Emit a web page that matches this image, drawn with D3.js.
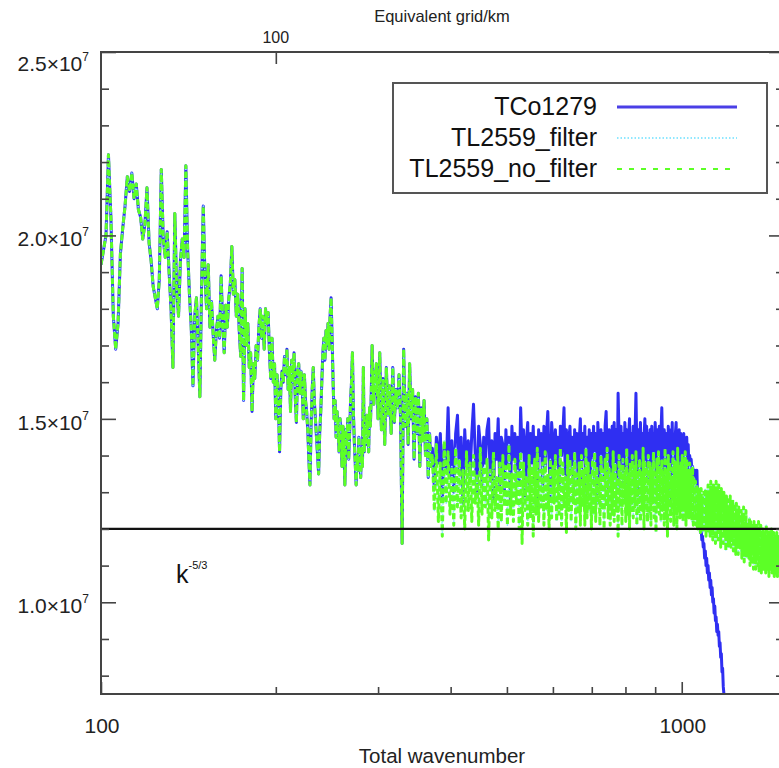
<!DOCTYPE html>
<html>
<head>
<meta charset="utf-8">
<script src="https://cdn.jsdelivr.net/npm/d3@7"></script>
<style>
  body { margin: 0; background: #fff; }
  svg { display: block; font-family: "Liberation Sans", Arial, sans-serif; }
</style>
</head>
<body>
<svg id="chart" width="779" height="768"></svg>
<script>
// Compensated kinetic-energy spectra; all spectral values are stored in units of 1e5.
const UNIT = 1e5;

const seriesNames = ["TCo1279", "TL2559_filter", "TL2559_no_filter"];

// Wavenumbers where the three runs coincide (k = 100..299 every 1, then 300..370 every 2)
const kShared = d3.range(100, 300).concat(d3.range(300, 371, 2));
// Wavenumbers of the high-k part (k = 372, 375, ... )
const kHigh = d3.range(372, 1510, 3);

const sharedSpectrum = [
  192, 196, 200, 222, 205, 178, 169, 176, 195, 202,
  208, 216, 212, 217, 210, 214, 207, 205, 199, 203,
  213, 198, 193, 186, 183, 180, 188, 218, 199, 194,
  201, 190, 180, 164, 206, 185, 178, 193, 199, 194,
  219, 196, 184, 175, 159, 178, 183, 170, 156, 186,
  208, 189, 180, 192, 175, 182, 173, 166, 174, 178,
  172, 189, 176, 168, 181, 175, 183, 187, 197, 184,
  188, 178, 184, 174, 167, 191, 155, 180, 170, 176,
  164, 168, 152, 165, 161, 170, 166, 175, 180, 172,
  178, 169, 180, 176, 179, 168, 161, 172, 160, 165,
  150, 162, 155, 141, 158, 163, 160, 167, 162, 169,
  158, 164, 152, 166, 160, 168, 156, 149, 163, 165,
  157, 163, 159, 150, 162, 155, 152, 147, 139, 132,
  148, 158, 164, 155, 150, 145, 140, 135, 146, 152,
  160, 168, 172, 166, 174, 170, 176, 169, 178, 183,
  172, 160, 150, 155, 145, 152, 148, 141, 150, 146,
  137, 148, 142, 132, 147, 143, 150, 139, 146, 155,
  160, 168, 152, 144, 138, 132, 140, 136, 145, 139,
  134, 142, 137, 164, 141, 148, 143, 151, 146, 141,
  153, 148, 157, 170, 160, 154, 163, 157, 165, 159,
  // k = 300..370 step 2
  150, 168, 147, 161, 143, 164, 151, 159, 146, 164,
  149, 158, 153, 162, 150, 116, 169, 148, 157, 143,
  165, 150, 158, 139, 156, 146, 157, 137, 153, 144,
  155, 140, 150, 134, 146, 137
];

const tco1279High = [
  142, 131, 145, 138, 146, 128, 143, 136, 153, 134,
  144, 130, 146, 151, 135, 145, 127, 147, 137, 144,
  134, 146, 154, 140, 129, 148, 143, 132, 145, 138,
  147, 150, 133, 144, 128, 146, 139, 150, 131, 145,
  143, 130, 147, 137, 145, 127, 148, 139, 146, 133,
  145, 132, 153, 141, 147, 129, 144, 149, 131, 146,
  138, 148, 133, 145, 126, 147, 140, 146, 132, 148,
  136, 146, 152, 139, 129, 149, 144, 134, 147, 138,
  145, 131, 148, 140, 146, 153, 135, 147, 127, 144,
  148, 136, 145, 130, 147, 140, 146, 133, 144, 150,
  134, 146, 139, 148, 128, 145, 137, 147, 131, 146,
  140, 148, 133, 146, 127, 149, 142, 132, 147, 139,
  146, 134, 148, 152, 139, 130, 147, 141, 133, 148,
  141, 149, 135, 147, 131, 157, 145, 134, 148, 139,
  146, 132, 149, 141, 147, 128, 145, 150, 136, 146,
  138, 148, 132, 146, 157, 141, 129, 147, 143, 149,
  135, 146, 130, 145, 150, 139, 148, 133, 146, 141,
  147, 134, 148, 129, 146, 140, 149, 143, 131, 147,
  139, 148, 135, 146, 153, 142, 130, 147, 144, 136,
  146, 133, 148, 141, 128, 147, 139, 149, 134, 145,
  135, 146, 149, 138, 145, 130, 147, 137, 146, 142,
  145, 134, 146, 140, 144, 131, 145, 138, 143, 136,
  140, 138, 139, 136, 137, 134, 135, 136, 132, 131,
  136, 128, 126, 122, 123, 119, 120, 117, 118, 115,
  116, 112, 114, 110, 112, 108, 110, 106, 108, 104,
  106, 102, 104, 100, 101, 97, 99, 95, 96, 92,
  94, 91, 92, 88, 89, 85, 86, 81, 82, 77,
  75, 70, 71, 66, 66, 61, 61, 56, 56, 51
];

const tl2559High = [
  140, 125, 143, 122, 138, 118, 144, 127, 141, 124,
  137, 121, 142, 126, 139, 123, 136, 120, 141, 125,
  138, 122, 140, 127, 135, 121, 142, 124, 137, 126,
  139, 117, 136, 123, 141, 125, 134, 120, 138, 122,
  140, 126, 137, 121, 143, 124, 135, 122, 139, 127,
  136, 120, 141, 116, 138, 125, 134, 121, 140, 123,
  137, 118, 139, 124, 142, 122, 136, 126, 138, 121,
  141, 125, 135, 120, 139, 123, 137, 127, 140, 122,
  136, 124, 142, 121, 138, 126, 134, 119, 140, 125,
  139, 122, 137, 127, 141, 120, 135, 124, 138, 121,
  140, 126, 136, 121, 142, 123, 138, 125, 135, 120,
  139, 124, 141, 122, 137, 127, 134, 121, 140, 125,
  136, 120, 139, 126, 142, 123, 137, 121, 135, 124,
  141, 122, 138, 125, 134, 118, 140, 126, 137, 121,
  139, 127, 136, 122, 142, 124, 135, 120, 138, 125,
  140, 123, 137, 126, 141, 121, 136, 124, 139, 122,
  135, 125, 142, 120, 138, 126, 137, 122, 140, 124,
  138, 121, 136, 127, 141, 123, 134, 119, 139, 126,
  141, 124, 137, 122, 139, 125, 135, 121, 142, 123,
  136, 118, 140, 126, 138, 122, 134, 125, 141, 121,
  139, 124, 137, 120, 142, 126, 136, 123, 138, 125,
  140, 122, 137, 125, 141, 121, 139, 124, 136, 123,
  138, 124, 135, 122, 137, 121, 134, 123, 133, 121,
  132, 120, 131, 122, 130, 119, 131, 121, 129, 119,
  130, 120, 131, 118, 129, 121, 132, 119, 130, 118,
  133, 119, 131, 117, 132, 120, 130, 116, 133, 118,
  131, 117, 132, 119, 129, 115, 131, 118, 128, 116,
  130, 118, 127, 114, 129, 117, 128, 115, 126, 116,
  129, 115, 127, 117, 128, 114, 126, 116, 127, 113,
  127, 116, 125, 113, 126, 115, 124, 114, 125, 112,
  124, 113, 126, 111, 123, 114, 125, 112, 122, 113,
  121, 112, 123, 110, 122, 111, 120, 113, 121, 109,
  122, 111, 120, 109, 121, 112, 119, 110, 122, 108,
  120, 110, 121, 108, 119, 111, 120, 109, 118, 110,
  119, 108, 121, 110, 118, 109, 120, 107, 119, 110,
  118, 109, 120, 108, 117, 110, 119, 107, 118, 109,
  117, 108, 119, 107, 118, 109, 116, 108, 117, 106,
  116, 107, 118, 108, 115, 106, 117, 107, 116, 105
];

// -5/3 reference level of the compensated spectrum
const referenceLevel = 120;

// Axis ticks
const xMajorTicks = [100, 1000];
const xMinorTicks = [200, 300, 400, 500, 600, 700, 800, 900];
const yMajorTicks = [100, 150, 200, 250];
const yTickLabels = ["1.0", "1.5", "2.0", "2.5"];
const yMinorTicks = [80, 90, 110, 120, 130, 140, 160, 170, 180, 190, 210, 220, 230, 240];
const gridKmTicks = [100];
const HALF_CIRCUMFERENCE_KM = 20000;

// ---- layout ----
const svg = d3.select("#chart");
const plot = { left: 101, right: 784, top: 52, bottom: 694 };

const x = d3.scaleLog().domain([100, 1500]).range([plot.left, plot.right]);
const y = d3.scaleLinear().domain([75 * UNIT, 250 * UNIT]).range([plot.bottom, plot.top]);

svg.append("defs").append("clipPath").attr("id", "plotClip")
  .append("rect")
  .attr("x", plot.left).attr("y", plot.top)
  .attr("width", plot.right - plot.left).attr("height", plot.bottom - plot.top);

function buildSeries(high) {
  return kShared.map((k, i) => ({ k, v: sharedSpectrum[i] }))
    .concat(high.map((v, i) => ({ k: kHigh[i], v })));
}
const tcoData = buildSeries(tco1279High);
const tlFilterData = buildSeries(tl2559High);
const tlNoFilterData = buildSeries(tl2559High);

const line = d3.line().x(d => x(d.k)).y(d => y(d.v * UNIT));

const styles = [
  { color: "#2f2ff2", width: 3, dash: null },
  { color: "#8fe8ff", width: 1.6, dash: "1.5,2" },
  { color: "#5cff26", width: 3, dash: "6,3" }
];

const lines = svg.append("g").attr("clip-path", "url(#plotClip)");
[tcoData, tlFilterData, tlNoFilterData].forEach((data, i) => {
  lines.append("path")
    .datum(data)
    .attr("fill", "none")
    .attr("stroke", styles[i].color)
    .attr("stroke-width", styles[i].width)
    .attr("stroke-dasharray", styles[i].dash)
    .attr("stroke-linejoin", "round")
    .attr("d", line);
});

// k^-5/3 reference line
lines.append("line")
  .attr("x1", plot.left).attr("x2", plot.right)
  .attr("y1", y(referenceLevel * UNIT)).attr("y2", y(referenceLevel * UNIT))
  .attr("stroke", "#111").attr("stroke-width", 2.2);

const kLabel = svg.append("text")
  .attr("x", 176).attr("y", 583)
  .attr("font-size", 25).attr("fill", "#111")
  .text("k");
kLabel.append("tspan").attr("dy", -14).attr("font-size", 11).text("-5/3");

// ---- axes ----
const axisColor = "#444";
function styleAxis(g) {
  g.select(".domain").remove();
  g.selectAll(".tick line").attr("stroke", axisColor).attr("stroke-width", 1.6);
  g.selectAll(".tick text").remove();
}

// left
svg.append("g").attr("transform", `translate(${plot.left},0)`)
  .call(d3.axisLeft(y).tickValues(yMajorTicks.map(v => v * UNIT)).tickSize(-15).tickFormat(""))
  .call(styleAxis);
svg.append("g").attr("transform", `translate(${plot.left},0)`)
  .call(d3.axisLeft(y).tickValues(yMinorTicks.map(v => v * UNIT)).tickSize(-8).tickFormat(""))
  .call(styleAxis);
// right (mirrored)
svg.append("g").attr("transform", `translate(${plot.right},0)`)
  .call(d3.axisRight(y).tickValues(yMajorTicks.map(v => v * UNIT)).tickSize(-15).tickFormat(""))
  .call(styleAxis);
svg.append("g").attr("transform", `translate(${plot.right},0)`)
  .call(d3.axisRight(y).tickValues(yMinorTicks.map(v => v * UNIT)).tickSize(-8).tickFormat(""))
  .call(styleAxis);
// bottom
svg.append("g").attr("transform", `translate(0,${plot.bottom})`)
  .call(d3.axisBottom(x).tickValues(xMajorTicks).tickSize(-12).tickFormat(""))
  .call(styleAxis);
svg.append("g").attr("transform", `translate(0,${plot.bottom})`)
  .call(d3.axisBottom(x).tickValues(xMinorTicks).tickSize(-7).tickFormat(""))
  .call(styleAxis);
// top: equivalent grid spacing in km
svg.append("g").attr("transform", `translate(0,${plot.top})`)
  .call(d3.axisTop(x).tickValues(gridKmTicks.map(km => HALF_CIRCUMFERENCE_KM / km)).tickSize(-12).tickFormat(""))
  .call(styleAxis);

// frame
svg.append("path")
  .attr("d", `M${plot.right},${plot.top}H${plot.left}V${plot.bottom}H${plot.right}V${plot.top}`)
  .attr("fill", "none").attr("stroke", axisColor).attr("stroke-width", 2);

// y tick labels  (n.n×10^7)
yMajorTicks.forEach((v, i) => {
  const t = svg.append("text")
    .attr("x", 89)
    .attr("y", Math.max(y(v * UNIT) + 11, plot.top + 19))
    .attr("text-anchor", "end")
    .attr("font-size", 21).attr("fill", "#222");
  t.append("tspan").text(yTickLabels[i] + "\u00d710");
  t.append("tspan").attr("dy", -10).attr("font-size", 12).text("7");
});

// x tick labels
xMajorTicks.forEach(k => {
  svg.append("text")
    .attr("x", x(k) + 1).attr("y", 733)
    .attr("text-anchor", "middle")
    .attr("font-size", 21).attr("fill", "#222")
    .text(d3.format("d")(k));
});
gridKmTicks.forEach(km => {
  svg.append("text")
    .attr("x", x(HALF_CIRCUMFERENCE_KM / km)).attr("y", 43)
    .attr("text-anchor", "middle")
    .attr("font-size", 16).attr("fill", "#222")
    .text(km);
});

// axis titles
svg.append("text")
  .attr("x", 442).attr("y", 763)
  .attr("text-anchor", "middle").attr("font-size", 20.5).attr("fill", "#222")
  .text("Total wavenumber");
svg.append("text")
  .attr("x", 442).attr("y", 22)
  .attr("text-anchor", "middle").attr("font-size", 16.5).attr("fill", "#222")
  .text("Equivalent grid/km");

// legend
const legend = svg.append("g");
legend.append("rect")
  .attr("x", 393).attr("y", 83).attr("width", 374).attr("height", 110)
  .attr("fill", "#fff").attr("stroke", "#555").attr("stroke-width", 2);
const legendRows = [107, 138, 169];
seriesNames.forEach((name, i) => {
  legend.append("text")
    .attr("x", 597).attr("y", legendRows[i] + 8)
    .attr("text-anchor", "end").attr("font-size", 25).attr("fill", "#111")
    .text(name);
  legend.append("line")
    .attr("x1", 617).attr("x2", 737)
    .attr("y1", legendRows[i]).attr("y2", legendRows[i])
    .attr("stroke", i === 0 ? "#4a3fe6" : styles[i].color)
    .attr("stroke-width", i === 0 ? 3 : 2)
    .attr("stroke-dasharray", i === 2 ? "5,7" : styles[i].dash);
});
</script>
</body>
</html>
